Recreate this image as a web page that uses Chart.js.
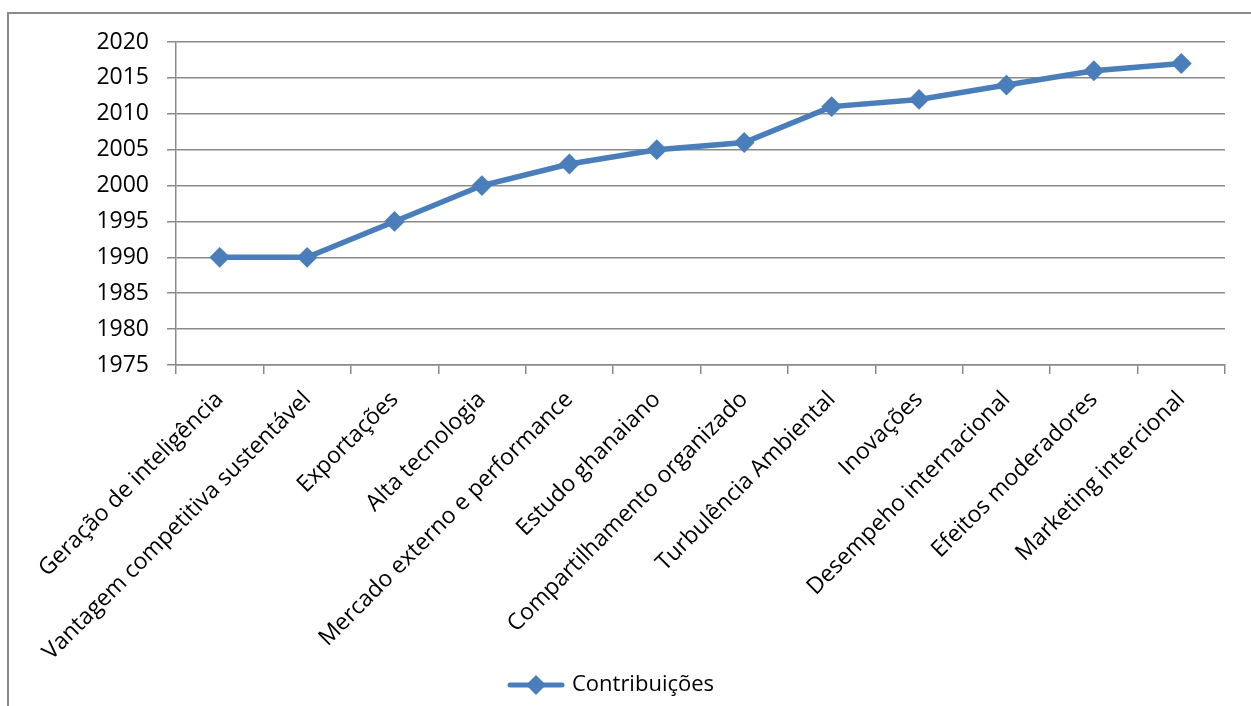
<!DOCTYPE html>
<html>
<head>
<meta charset="utf-8">
<script src="https://cdn.jsdelivr.net/npm/chart.js@4"></script>
<style>
  html, body { margin: 0; padding: 0; background: #fff; overflow: hidden; }
  #frame { position: absolute; left: 7px; top: 12px; width: 1400px; height: 800px;
           border-left: 2px solid #8a8a8a; border-top: 2px solid #8a8a8a; }
  #wrap { position: absolute; left: 0; top: 0; width: 1251px; height: 706px; }
</style>
</head>
<body>
<div id="frame"></div>
<div id="wrap"><canvas id="grafico"></canvas></div>
<script>
// categorias e valores
const categorias = [
  'Geração de inteligência',
  'Vantagem competitiva sustentável',
  'Exportações',
  'Alta tecnologia',
  'Mercado externo e performance',
  'Estudo ghanaiano',
  'Compartilhamento organizado',
  'Turbulência Ambiental',
  'Inovações',
  'Desempeho internacional',
  'Efeitos moderadores',
  'Marketing intercional'
];
const contribuicoes = [1990, 1990, 1995, 2000, 2003, 2005, 2006, 2011, 2012, 2014, 2016, 2017];
const eixoY = { min: 1975, max: 2020, passo: 5 };

const azul = '#4A7EBB';
const cinza = '#8a8a8a';
const fonte = "'Open Sans', sans-serif";

// ícone da legenda: linha com losango
const icone = document.createElement('canvas');
icone.width = 58; icone.height = 24;
const ic = icone.getContext('2d');
ic.strokeStyle = azul; ic.lineWidth = 5; ic.lineCap = 'round';
ic.beginPath(); ic.moveTo(3, 12); ic.lineTo(55, 12); ic.stroke();
ic.fillStyle = azul;
ic.beginPath(); ic.moveTo(29, 2); ic.lineTo(39, 12); ic.lineTo(29, 22); ic.lineTo(19, 12); ic.closePath(); ic.fill();

const ctx = document.getElementById('grafico');

new Chart(ctx, {
  type: 'line',
  data: {
    labels: categorias,
    datasets: [{
      label: 'Contribuições',
      data: contribuicoes,
      borderColor: azul,
      backgroundColor: azul,
      borderWidth: 5.5,
      tension: 0,
      pointStyle: 'rectRot',
      pointRadius: 9,
      pointBorderWidth: 2,
      pointBackgroundColor: azul,
      pointBorderColor: azul
    }]
  },
  options: {
    responsive: true,
    maintainAspectRatio: false,
    animation: false,
    layout: { padding: { top: 42, right: 26, left: 0, bottom: 0 } },
    plugins: {
      tooltip: { enabled: false },
      legend: {
        position: 'bottom',
        labels: {
          usePointStyle: true,
          pointStyle: icone,
          pointStyleWidth: 50,
          color: '#000',
          padding: 10,
          font: { family: fonte, size: 22 },
          generateLabels: (chart) => [{
            text: 'Contribuições',
            pointStyle: icone,
            fillStyle: azul,
            strokeStyle: azul,
            lineWidth: 0,
            datasetIndex: 0
          }]
        }
      }
    },
    scales: {
      x: {
        offset: true,
        grid: { offset: true, drawOnChartArea: false, drawTicks: true, tickLength: 9, color: cinza, lineWidth: 1.5 },
        border: { color: cinza, width: 1.5 },
        ticks: {
          color: '#000', minRotation: 45, maxRotation: 45, autoSkip: false, padding: 12,
          font: { family: fonte, size: 23 }
        },
        afterFit: (scale) => { scale.height = 299; }
      },
      y: {
        min: eixoY.min, max: eixoY.max,
        grid: { color: cinza, lineWidth: 1.5, tickLength: 9 },
        border: { color: cinza, width: 1.5 },
        ticks: {
          stepSize: eixoY.passo, color: '#000', padding: 18,
          font: { family: fonte, size: 23 },
          callback: (v) => String(v)
        },
        afterFit: (scale) => { scale.width = 176; }
      }
    }
  }
});
</script>
</body>
</html>
